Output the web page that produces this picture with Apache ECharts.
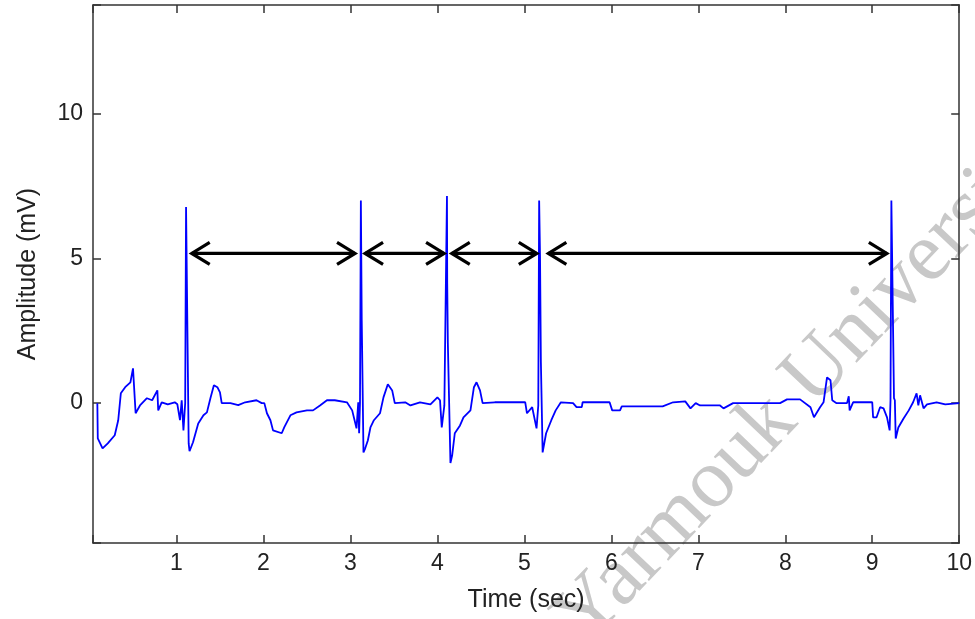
<!DOCTYPE html>
<html><head><meta charset="utf-8">
<script src="https://cdn.jsdelivr.net/npm/echarts@6/dist/echarts.min.js"></script>
<style>html,body{margin:0;padding:0;background:#fff}#c{width:975px;height:619px}</style>
</head><body><div id="c"></div>
<script>
// ECG trace (time in s, amplitude in mV)
const time = [
 0.09,0.095,0.15,0.21,0.29,0.33,0.36,0.41,0.47,0.50,
 0.52,0.53,0.58,0.66,0.72,0.78,0.79,0.83,0.90,0.98,
 1.01,1.04,1.06,1.08,1.10,1.11,1.13,1.14,1.15,1.19,
 1.25,1.31,1.35,1.39,1.43,1.47,1.50,1.52,1.62,1.71,
 1.79,1.92,1.98,2.01,2.04,2.08,2.11,2.21,2.24,2.31,
 2.38,2.50,2.57,2.65,2.73,2.82,2.96,3.02,3.07,3.09,
 3.10,3.11,3.12,3.13,3.14,3.15,3.17,3.20,3.23,3.27,
 3.34,3.38,3.43,3.48,3.51,3.63,3.69,3.80,3.92,4.00,
 4.03,4.05,4.08,4.11,4.113,4.12,4.13,4.15,4.17,4.20,
 4.26,4.30,4.38,4.42,4.45,4.49,4.52,4.66,4.84,5.01,
 5.03,5.09,5.14,5.16,5.17,5.18,5.19,5.20,5.21,5.25,
 5.31,5.36,5.42,5.56,5.60,5.66,5.67,5.87,5.98,6.01,
 6.10,6.12,6.33,6.59,6.71,6.85,6.91,6.97,7.02,7.14,
 7.25,7.29,7.40,7.60,7.94,8.02,8.17,8.29,8.33,8.40,
 8.44,8.48,8.52,8.54,8.59,8.71,8.73,8.74,8.78,8.94,
 9.00,9.01,9.05,9.09,9.13,9.17,9.20,9.21,9.22,9.24,
 9.25,9.26,9.27,9.30,9.36,9.42,9.47,9.51,9.53,9.55,
 9.59,9.63,9.74,9.84,10.0
];
const amplitude = [
 0.0,-1.22,-1.56,-1.39,-1.11,-0.59,0.34,0.55,0.72,1.20,
 1.24,-0.35,-0.08,0.17,0.10,0.44,-0.25,0.03,-0.04,0.03,
 -0.04,-0.59,0.10,-0.94,0.0,6.77,6.77,-1.39,-1.66,-1.35,
 -0.70,-0.42,-0.32,0.17,0.62,0.55,0.37,0.0,0.0,-0.07,
 0.03,0.10,0.0,0.0,-0.35,-0.59,-0.94,-1.04,-0.83,-0.42,
 -0.32,-0.25,-0.25,-0.08,0.10,0.10,0.03,-0.25,-0.87,0.03,
 -1.04,0.0,7.0,2.86,2.86,-1.70,-1.56,-1.29,-0.84,-0.59,
 -0.35,0.20,0.65,0.44,0.0,0.03,-0.08,0.03,-0.04,0.20,
 0.10,-0.84,-0.08,7.15,4.14,2.10,2.10,-2.07,-1.80,-1.04,
 -0.77,-0.49,-0.25,0.55,0.72,0.44,0.0,0.03,0.03,0.03,
 -0.35,-0.14,-0.87,-0.08,7.0,5.1,1.41,1.41,-1.70,-1.04,
 -0.59,-0.25,0.03,0.0,-0.14,-0.14,0.03,0.03,0.03,-0.25,
 -0.25,-0.11,-0.11,-0.11,0.03,0.06,-0.18,0.0,-0.08,-0.08,
 -0.08,-0.18,0.0,0.0,0.0,0.13,0.13,-0.14,-0.49,-0.14,
 0.03,0.89,0.79,0.10,0.0,0.0,0.24,-0.25,0.03,0.03,
 0.03,-0.49,-0.49,-0.14,-0.18,-0.49,-0.94,0.10,7.0,7.0,
 0.17,0.10,-1.22,-0.84,-0.53,-0.25,0.03,0.34,-0.08,0.27,
 -0.18,-0.04,0.03,-0.04,0.0
];
// RR-interval arrows (x from, x to, level in mV)
const arrowStart = [1.175, 3.168, 4.165, 5.276];
const arrowEnd   = [3.053, 4.077, 5.143, 9.168];
const arrowLevel = [5.17, 5.17, 5.17, 5.17];
const xTicks = [1,2,3,4,5,6,7,8,9,10];
const yTicks = [0,5,10];

const FONT = '"Liberation Sans", Arial, sans-serif';
const AX = '#333';
const isTick = (list, v) => list.some(t => Math.abs(t - v) < 1e-6);

const chart = echarts.init(document.getElementById('c'), null, {renderer: 'canvas'});
const axisLine = {show: true, onZero: false, lineStyle: {color: AX, width: 1.5}};
const axisTick = {show: true, inside: true, length: 8, lineStyle: {color: AX, width: 1.5}};

chart.setOption({
  animation: false,
  backgroundColor: '#fff',
  grid: {left: 93, right: 15, top: 5, bottom: 76, containLabel: false},
  xAxis: [{
    type: 'value', min: 0.04, max: 10, splitNumber: 10, position: 'bottom',
    axisLine: axisLine, axisTick: axisTick, splitLine: {show: false},
    axisLabel: {formatter: v => isTick(xTicks, v) ? String(Math.round(v)) : '', fontSize: 23, color: '#222', fontFamily: FONT, margin: 9},
    name: 'Time (sec)', nameLocation: 'middle', nameGap: 45,
    nameTextStyle: {fontSize: 25, color: '#222', fontFamily: FONT}
  }, {
    type: 'value', min: 0.04, max: 10, splitNumber: 10, position: 'top',
    axisLine: axisLine, axisTick: axisTick, splitLine: {show: false}, axisLabel: {show: false}
  }],
  yAxis: [{
    type: 'value', min: -4.83, max: 13.75, splitNumber: 4, position: 'left',
    axisLine: axisLine, axisTick: axisTick, splitLine: {show: false},
    axisLabel: {formatter: v => isTick(yTicks, v) ? String(Math.round(v)) : '', fontSize: 23, color: '#222', fontFamily: FONT, margin: 10},
    name: 'Amplitude (mV)', nameLocation: 'middle', nameGap: 52,
    nameTextStyle: {fontSize: 25, color: '#222', fontFamily: FONT}
  }, {
    type: 'value', min: -4.83, max: 13.75, splitNumber: 4, position: 'right',
    axisLine: axisLine, axisTick: axisTick, splitLine: {show: false}, axisLabel: {show: false}
  }],
  graphic: [{
    type: 'text', x: 570, y: 632, rotation: 0.81, z: -10, silent: true,
    style: {text: 'Yarmouk University', fontSize: 84, fontFamily: '"Liberation Serif", "Times New Roman", serif',
            fill: '#c8c8c8', align: 'left', verticalAlign: 'middle'}
  }],
  series: [{
    type: 'line', xAxisIndex: 0, yAxisIndex: 0,
    data: time.map((t, i) => [t, amplitude[i]]),
    showSymbol: false, symbol: 'none',
    lineStyle: {color: '#0000ff', width: 1.8}, z: 3
  }, {
    type: 'custom', xAxisIndex: 0, yAxisIndex: 0,
    data: arrowStart.map((s, i) => [s, arrowEnd[i], arrowLevel[i]]),
    encode: {x: [0, 1], y: 2},
    renderItem: function (params, api) {
      const p1 = api.coord([api.value(0), api.value(2)]);
      const p2 = api.coord([api.value(1), api.value(2)]);
      const hl = 18, hw = 11;
      const st = {stroke: '#000', lineWidth: 3.2, fill: null};
      return {type: 'group', children: [
        {type: 'line', shape: {x1: p1[0], y1: p1[1], x2: p2[0], y2: p2[1]}, style: st},
        {type: 'polyline', shape: {points: [[p1[0] + hl, p1[1] - hw], [p1[0], p1[1]], [p1[0] + hl, p1[1] + hw]]}, style: st},
        {type: 'polyline', shape: {points: [[p2[0] - hl, p2[1] - hw], [p2[0], p2[1]], [p2[0] - hl, p2[1] + hw]]}, style: st}
      ]};
    },
    z: 4
  }]
});
</script></body></html>
